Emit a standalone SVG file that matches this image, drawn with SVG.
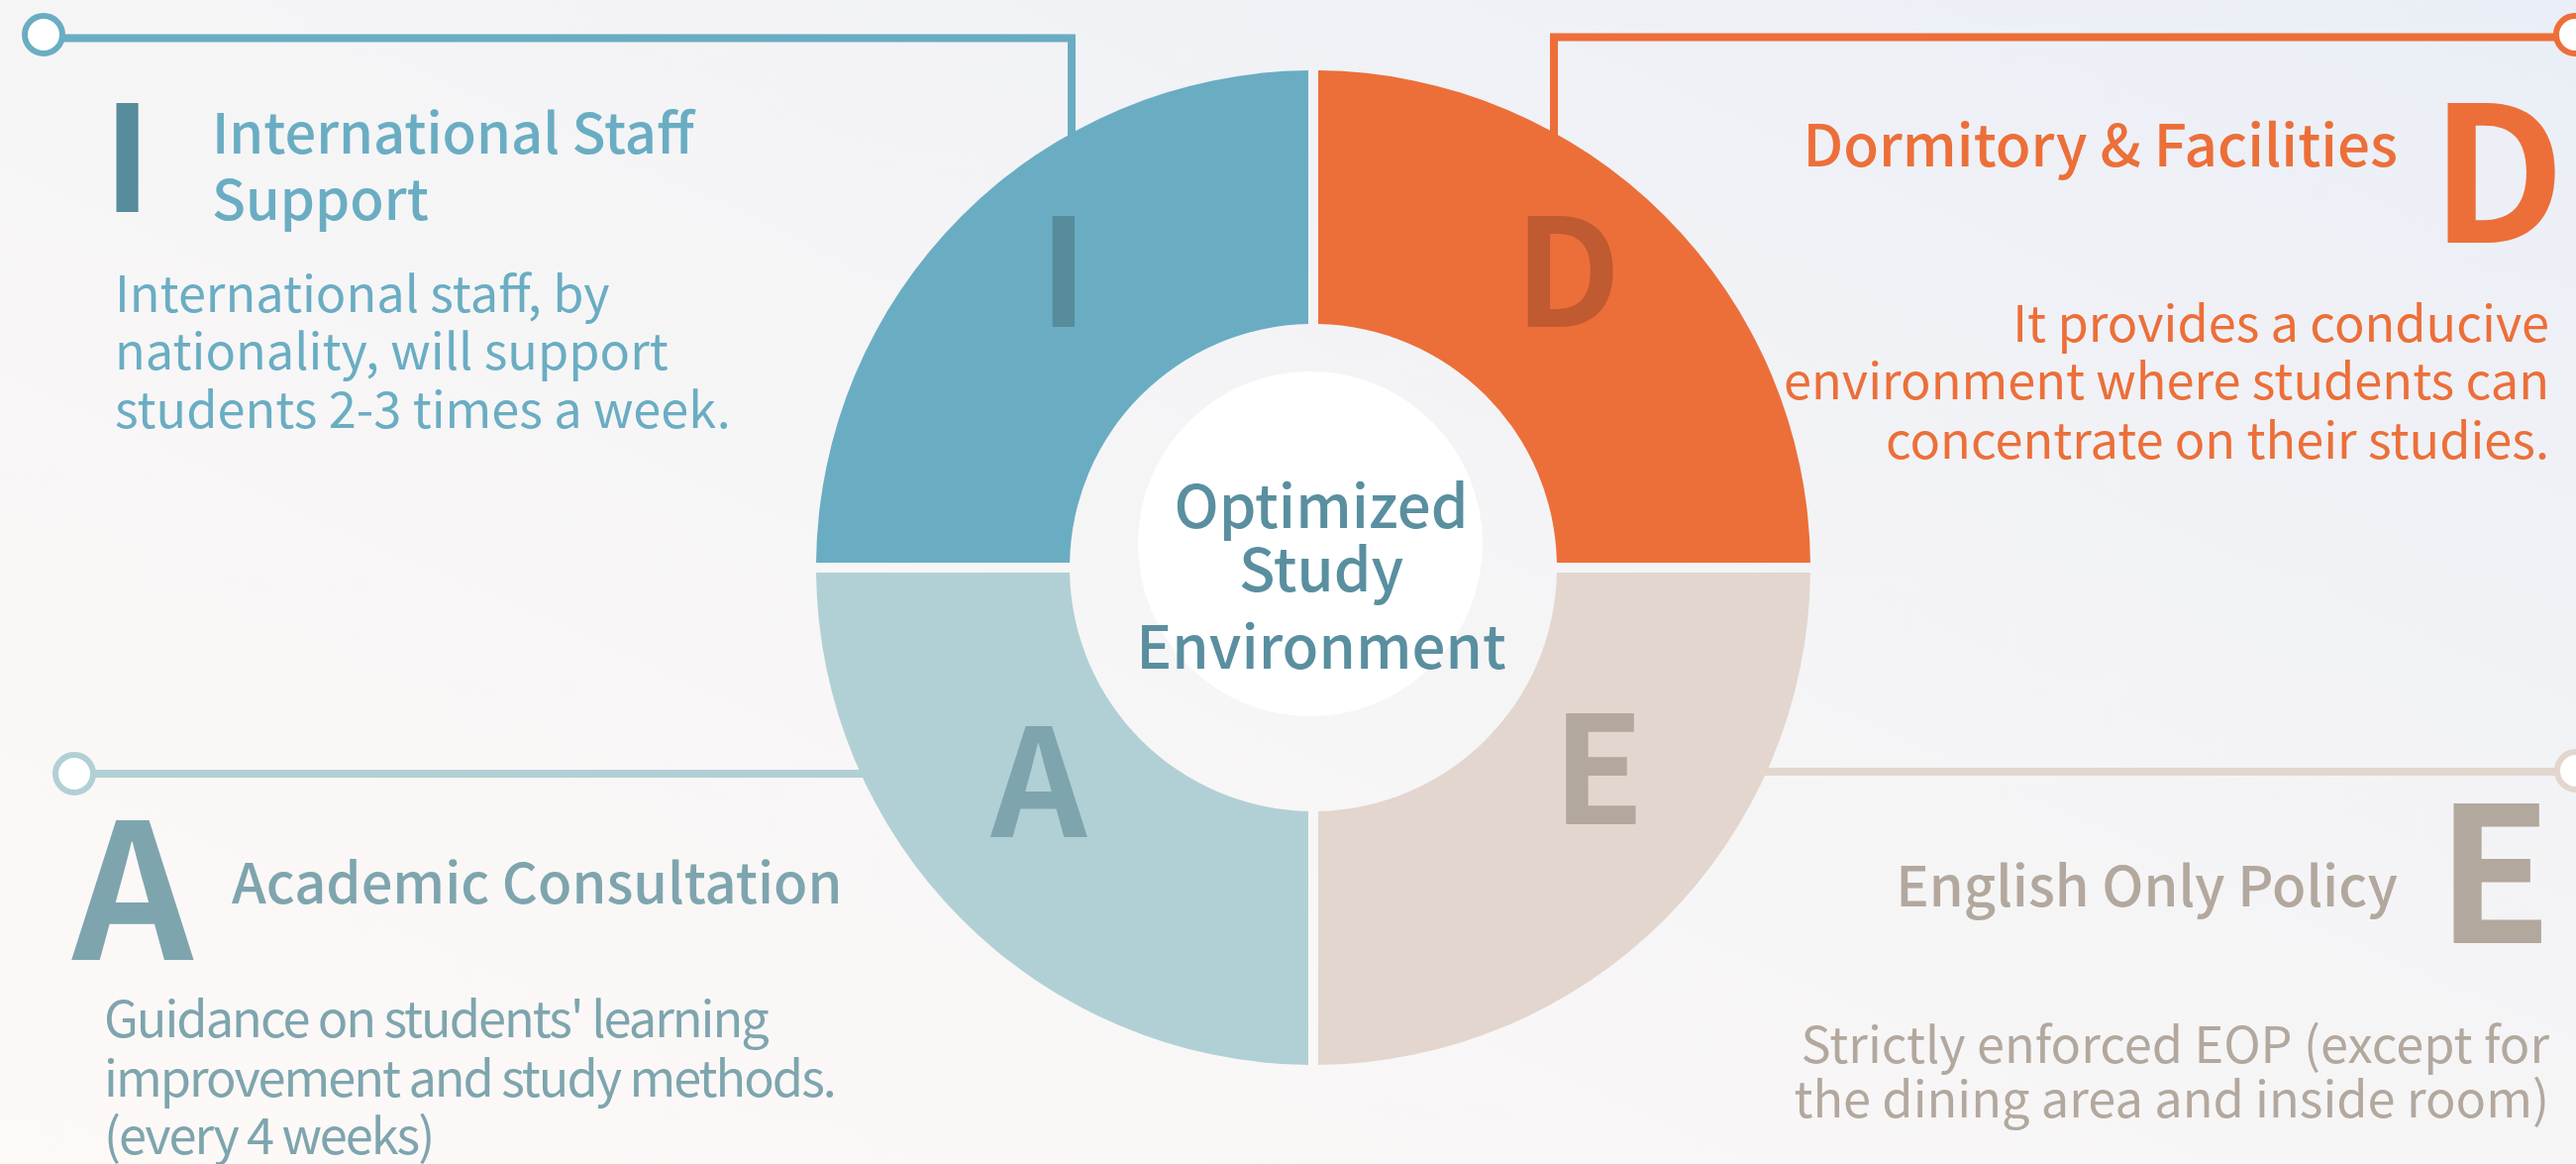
<svg xmlns="http://www.w3.org/2000/svg" width="2601" height="1175" viewBox="0 0 2601 1175">
<defs>
<linearGradient id="bg" x1="1" y1="0" x2="0" y2="1">
<stop offset="0" stop-color="#eaeef6"/>
<stop offset="0.5" stop-color="#f6f5f6"/>
<stop offset="1" stop-color="#fdf9f7"/>
</linearGradient>
<style>
text{font-family:"Noto Sans CJK KR","Source Sans Pro","Noto Sans",sans-serif;}
.big{font-weight:700;font-size:190px;}
.bigI{font-weight:700;font-size:149px;}
.head{font-size:56px;font-weight:500;}
.body{font-size:50.5px;font-weight:400;}
.ring{font-size:151px;font-weight:700;text-anchor:middle;}
.ctr{font-size:60px;font-weight:500;fill:#5a8fa0;text-anchor:middle;}
.conn{fill:none;stroke-width:8;stroke-linejoin:miter;}
.dot{fill:#ffffff;stroke-width:6;}
</style>
</defs>
<rect width="2601" height="1175" fill="url(#bg)"/>
<g id="connectors">
<path class="conn" d="M60 38.5 H1082 V200" stroke="#6aadc3"/>
<circle class="dot" cx="44" cy="35" r="19" stroke="#6aadc3"/>
<path class="conn" d="M2585 37.5 H1569 V200" stroke="#ec6f39"/>
<circle class="dot" cx="2600" cy="35" r="19" stroke="#ec6f39"/>
<path class="conn" d="M90 781 H900" stroke="#b1d0d5"/>
<circle class="dot" cx="75" cy="781" r="19" stroke="#b1d0d5"/>
<path class="conn" d="M1760 779 H2585" stroke="#e2d6ce"/>
<circle class="dot" cx="2601" cy="778" r="19" stroke="#e2d6ce"/>
</g>
<g id="ring">
<path id="q-I" d="M1321 71.03 A502 502 0 0 0 824.03 568 L1080.05 568 A246 246 0 0 1 1321 327.05 Z" fill="#6aadc3"/>
<path id="q-D" d="M1331 71.03 L1331 327.05 A246 246 0 0 1 1571.95 568 L1827.97 568 A502 502 0 0 0 1331 71.03 Z" fill="#ec6f39"/>
<path id="q-A" d="M824.03 578 A502 502 0 0 0 1321 1074.97 L1321 818.95 A246 246 0 0 1 1080.05 578 Z" fill="#b1d0d5"/>
<path id="q-E" d="M1331 1074.97 A502 502 0 0 0 1827.97 578 L1571.95 578 A246 246 0 0 1 1331 818.95 Z" fill="#e2d6ce"/>
<text class="ring" x="1074" y="330" fill="#568c9c">I</text>
<text class="ring" x="1583" y="330" fill="#c05a31">D</text>
<text class="ring" x="1049" y="845" fill="#7ea5ae">A</text>
<text class="ring" x="1614" y="832" fill="#b3a89e">E</text>
</g>
<g id="center">
<circle cx="1323" cy="549" r="174" fill="#ffffff"/>
<text class="ctr" x="1334" y="533">Optimized</text>
<text class="ctr" x="1334" y="597">Study</text>
<text class="ctr" x="1334" y="675">Environment</text>
</g>
<g id="node-I">
<text class="bigI" x="104" y="214" fill="#568c9c">I</text>
<text class="head" x="214" y="155" fill="#6aadc3">International Staff</text>
<text class="head" x="214" y="222" fill="#6aadc3">Support</text>
<text class="body" x="116" y="315" fill="#6aadc3">International staff, by</text>
<text class="body" x="116" y="373" fill="#6aadc3">nationality, will support</text>
<text class="body" x="116" y="432" fill="#6aadc3">students 2-3 times a week.</text>
</g>
<g id="node-D">
<text class="big" x="2590" y="245" fill="#ec6f39" text-anchor="end">D</text>
<text class="head" x="2421" y="168" style="font-size:58.3px" fill="#ec6f39" text-anchor="end">Dormitory &amp; Facilities</text>
<text class="body" x="2574" y="345" fill="#ec6f39" text-anchor="end">It provides a conducive</text>
<text class="body" x="2574" y="403" fill="#ec6f39" text-anchor="end">environment where students can</text>
<text class="body" x="2574" y="463" fill="#ec6f39" text-anchor="end">concentrate on their studies.</text>
</g>
<g id="node-A">
<text class="big" x="73" y="969" fill="#7ea5ae">A</text>
<text class="head" x="234" y="912" fill="#7ea5ae">Academic Consultation</text>
<text class="body" x="105" y="1047" fill="#7ea5ae" letter-spacing="-2">Guidance on students' learning</text>
<text class="body" x="105" y="1107" fill="#7ea5ae" letter-spacing="-2">improvement and study methods.</text>
<text class="body" x="105" y="1165" fill="#7ea5ae" letter-spacing="-2">(every 4 weeks)</text>
</g>
<g id="node-E">
<text class="big" x="2577" y="952" fill="#b3a89e" text-anchor="end">E</text>
<text class="head" x="2421" y="915" fill="#b3a89e" text-anchor="end">English Only Policy</text>
<text class="body" x="2574" y="1073" fill="#b3a89e" text-anchor="end">Strictly enforced EOP (except for</text>
<text class="body" x="2574" y="1128" fill="#b3a89e" text-anchor="end">the dining area and inside room)</text>
</g>
</svg>
